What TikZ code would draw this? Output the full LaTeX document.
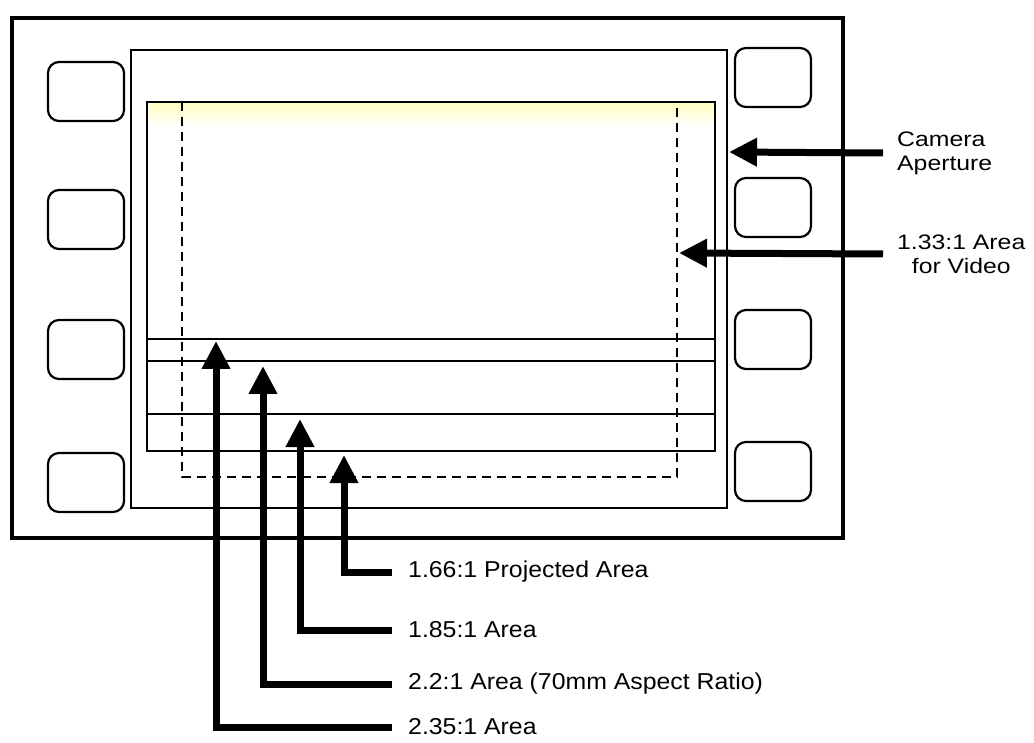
\documentclass[tikz,border=0pt]{standalone}
\usepackage{fontspec}
\setmainfont{Liberation Sans}
\newfontfamily\lblfont{Liberation Sans}[FakeStretch=1.08]
\newfontfamily\sidefont{Liberation Sans}[FakeStretch=1.18]
\usetikzlibrary{arrows.meta,positioning,calc}

\begin{document}
\begin{tikzpicture}[
    x=1pt, y=-1pt,
    frame/.style={draw, line width=3.2pt},
    gate/.style={draw, line width=2.8pt},
    hole/.style={draw, line width=2.2pt, rounded corners=11pt},
    ratio/.style={line width=2.5pt},
    vid/.style={line width=2.7pt, dash pattern=on 9pt off 6pt},
    pt/.style={-{Triangle[length=28pt,width=27pt]}, line width=7pt},
    lbl/.style={anchor=west, inner xsep=16pt, inner ysep=0pt,
      font=\lblfont\fontsize{23}{27}\selectfont},
    side/.style={anchor=west, inner xsep=14pt, inner ysep=0pt,
      font=\sidefont\fontsize{21}{24}\selectfont}
  ]
    \useasboundingbox (0,0) rectangle (1034,743);

    % film strip with its perforations
    \draw[frame] (12,18) rectangle (843,538);
    \foreach \top in {62,190,320,453}
      \draw[hole] (48,\top) rectangle (124,\top+59);
    \foreach \top in {48,178,310,442}
      \draw[hole] (735,\top) rectangle (811,\top+59);

    % camera aperture and the frame lines inside it
    \draw[gate] (131,50) rectangle (727,508);
    \shade[top color=yellow!24, bottom color=white] (149,104) rectangle (713,126);
    \draw[gate] (147,102) rectangle (715,451);
    \draw[ratio] (147,339) -- (715,339);
    \draw[ratio] (147,361) -- (715,361);
    \draw[ratio] (147,414) -- (715,414);

    % 1.33:1 video area
    \draw[vid] (182,102) -- (182,477) -- (677,477) -- (677,102);

    % points the arrows hit
    \coordinate (tCam) at (729,152);
    \coordinate (tVid) at (679,253);
    \coordinate (t235) at (216,341);
    \coordinate (t22) at (263,366);
    \coordinate (t185) at (300,419);
    \coordinate (t166) at (344,455);

    \node[side, align=left] (cam) at (883,153) {Camera\\Aperture};
    \node[side, align=center] (vid) at (883,254) {1.33:1 Area\\for Video};

    \node[lbl] (l166) at (392,572) {1.66:1 Projected Area};
    \node[lbl] (l185) at (392,630) {1.85:1 Area};
    \node[lbl] (l22) at (392,684) {2.2:1 Area (70mm Aspect Ratio)};
    \node[lbl] (l235) at (392,727) {2.35:1 Area};

    \draw[pt] (cam.west) -- (tCam);
    \draw[pt] (vid.west) -- (tVid);
    \draw[pt] (l166.west) -| (t166);
    \draw[pt] (l185.west) -| (t185);
    \draw[pt] (l22.west) -| (t22);
    \draw[pt] (l235.west) -| (t235);

  \end{tikzpicture}
\end{document}
